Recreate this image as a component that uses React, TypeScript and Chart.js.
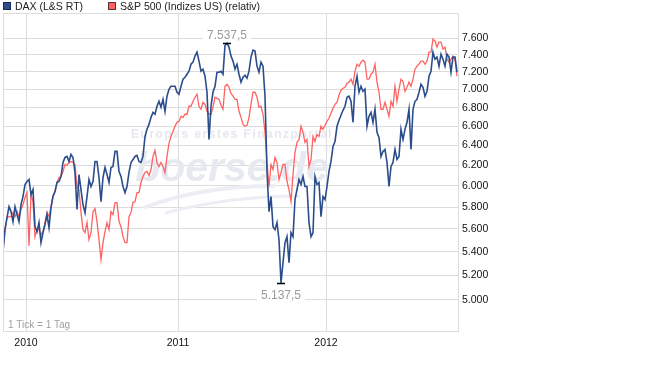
import React, { useEffect, useRef } from "react";
import { Chart, registerables } from "chart.js";

Chart.register(...registerables);

// ---- data (one value per ~trading-week step) ----
const daxValues: number[] = [
  5400, 5594, 5703, 5804, 5758, 5667, 5804, 5731, 5667, 5823,
  5898, 6013, 6042, 6061, 5917, 5965, 5621, 5576, 5658, 5479,
  5567, 5639, 5731, 5612, 5795, 5898, 5946, 6032, 6042, 6091,
  6229, 6279, 6289, 6239, 6309, 6279, 6130, 5777, 6110, 5965,
  5823, 5749, 5898, 6061, 5994, 6042, 6239, 6239, 6081, 5851,
  6081, 6179, 6110, 6032, 6179, 6189, 6340, 6340, 6140,
  6091, 5994, 5936, 5994, 6130, 6229, 6259, 6289, 6299, 6239,
  6229, 6289, 6494, 6568, 6620, 6695, 6749, 6728, 6815, 6869,
  6804, 6891, 6760, 6925, 7003, 7036, 7036, 7036, 6969, 6947,
  7036, 7116, 7139, 7173, 7208, 7289, 7313, 7384, 7431, 7325,
  7208, 7231, 7150, 6969, 6463, 6815, 6969, 7036, 7196, 7196,
  7208, 7173, 7510, 7537.5, 7491, 7384, 7325,
  7231, 7289, 7173, 7082, 7139, 7162, 7128, 7208, 7372, 7455,
  7443, 7266, 7196, 7313, 7266, 6925, 6140, 5758, 5898, 5621,
  5594, 5658, 5505, 5137.5, 5306, 5479, 5532, 5306, 5567, 5532,
  5870, 5965, 6061, 6013, 6091, 5994, 5994, 5658, 5532, 5567,
  6091, 6013, 6032, 5712, 5898, 5870, 5994, 6140, 6239, 6391,
  6442, 6600, 6664, 6717, 6771, 6815, 6914, 6925,
  6869, 6642, 7036, 7150, 6969, 7036, 6980, 7003, 6600, 6706,
  6749, 6642, 6782, 6536, 6484, 6289, 6340, 6360, 6229, 5994,
  6189, 6229, 6360, 6259, 6289, 6568, 6463, 6568, 6642, 6782,
  6360, 6782, 6869, 6891, 6969, 7059, 7025, 6925, 6980, 7150,
  7208, 7431, 7348, 7372, 7266, 7407, 7348, 7266, 7407, 7372,
  7196, 7372, 7372, 7196,
];

const spRelValues: number[] = [
  5418, 5594, 5703, 5712, 5712, 5749, 5712, 5758, 5712, 5777,
  5823, 5889, 5936, 5452, 5917, 5851, 5532, 5594, 5594, 5550,
  5576, 5658, 5749, 5712, 5804, 5907, 5946, 6032, 6081, 6091,
  6140, 6209, 6199, 6229, 6239, 6229, 6209, 5984, 5965, 5749,
  5594, 5567, 5658, 5505, 5567, 5758, 5786, 5667, 5505, 5331,
  5479, 5576, 5658, 5594, 5758, 5731, 5842, 5842, 5667,
  5621, 5532, 5479, 5479, 5712, 5749, 5842, 5851, 5936, 5936,
  6032, 6091, 6130, 6140, 6100, 6159, 6289, 6350, 6229, 6189,
  6229, 6189, 6130, 6289, 6422, 6494, 6547, 6600, 6642, 6653,
  6706, 6695, 6728, 6728, 6815, 6815, 6869, 6914, 6947, 6815,
  6782, 6858, 6836, 6760, 6728, 6728, 6804, 6914, 6902, 6891,
  6825, 6782, 7036, 7059, 7025, 6958, 6925,
  6891, 6891, 6760, 6695, 6620, 6600, 6610, 6695, 6836, 6969,
  6969, 6914, 6804, 6815, 6728, 6536, 6229, 5994, 6209, 6159,
  6279, 6229, 6061, 6130, 6209, 6209, 6042, 5965, 5851, 6110,
  6330, 6432, 6463, 6600, 6536, 6432, 6463, 6189, 6259, 6494,
  6442, 6515, 6494, 6600, 6568, 6610, 6653, 6685, 6739, 6793,
  6836, 6858, 6936, 6992, 7014, 7025, 7071, 7082,
  7116, 7059, 7208, 7289, 7266, 7313, 7336, 7313, 7116, 7116,
  7173, 7196, 7289, 7082, 6969, 6782, 6782, 6858, 6782, 6706,
  6869, 6815, 7036, 6869, 7003, 7116, 7093, 6980, 7025, 7082,
  7036, 7116, 7231, 7266, 7289, 7325, 7325, 7289, 7325, 7431,
  7431, 7588, 7563, 7491, 7551, 7551, 7467, 7491, 7348, 7313,
  7348, 7384, 7348, 7150,
];

const yTickValues: number[] = [5000, 5200, 5400, 5600, 5800, 6000, 6200, 6400, 6600, 6800, 7000, 7200, 7400, 7600];
const yearTickIndex: number[] = [11.5, 87.5, 161.5];
const yearTickLabels: string[] = ["2010", "2011", "2012"];
const seriesLabels: string[] = ["DAX (L&S RT)", "S&P 500 (Indizes US) (relativ)"];
const tickNote = "1 Tick = 1 Tag";
const watermarkSlogan = "Europas erstes Finanzportal";
const watermarkBrand = "boerse.de";

const BLUE = "#2c4d8c";
const RED = "#ff6262";
const GRID = "#dcdcdc";
const FONT = "'Liberation Sans', Arial, Helvetica, sans-serif";

function fmtDe(v: number): string {
  const a = Math.abs(v);
  const ip = Math.floor(a + 1e-9);
  const frac = Math.round((a - ip) * 10);
  const s = String(ip).replace(/\B(?=(\d{3})+(?!\d))/g, ".");
  return (v < 0 ? "-" : "") + s + (frac ? "," + frac : "");
}

const decorPlugin = {
  id: "decor",
  beforeDatasetsDraw(chart: any) {
    const { ctx, chartArea: a } = chart;
    ctx.save();
    ctx.beginPath();
    ctx.rect(a.left, a.top, a.right - a.left, a.bottom - a.top);
    ctx.clip();
    ctx.textAlign = "center";
    ctx.textBaseline = "alphabetic";
    ctx.fillStyle = "#e6e8f0";
    ctx.font = `bold 12px ${FONT}`;
    try { (ctx as any).letterSpacing = "1.5px"; } catch (e) {}
    ctx.fillText(watermarkSlogan, 232, 138);
    try { (ctx as any).letterSpacing = "0px"; } catch (e) {}
    ctx.fillStyle = "#e7e9f1";
    ctx.font = `italic bold 41px ${FONT}`;
    ctx.fillText(watermarkBrand, 232, 181);
    ctx.font = `9px ${FONT}`;
    ctx.fillText("®", 327, 152);
    ctx.strokeStyle = "#eceef4";
    ctx.lineWidth = 4;
    ctx.beginPath();
    ctx.moveTo(143, 208);
    ctx.quadraticCurveTo(200, 186, 275, 186);
    ctx.stroke();
    ctx.lineWidth = 3;
    ctx.beginPath();
    ctx.moveTo(165, 213);
    ctx.quadraticCurveTo(230, 196, 300, 196);
    ctx.stroke();
    ctx.restore();
  },
  afterDraw(chart: any) {
    const { ctx, chartArea: a, scales } = chart;
    ctx.save();
    // frame top & left
    ctx.strokeStyle = GRID;
    ctx.lineWidth = 1;
    ctx.beginPath();
    ctx.moveTo(Math.floor(a.left) + 0.5, Math.floor(a.bottom));
    ctx.lineTo(Math.floor(a.left) + 0.5, Math.floor(a.top) + 0.5);
    ctx.lineTo(Math.round(a.right), Math.floor(a.top) + 0.5);
    ctx.stroke();

    // extreme markers
    const dax = daxValues;
    let iMax = 0, iMin = 0;
    dax.forEach((v, i) => {
      if (v > dax[iMax]) iMax = i;
      if (v < dax[iMin]) iMin = i;
    });
    const drawMark = (i: number, above: boolean) => {
      const v = dax[i];
      const x = scales.x.getPixelForValue(i);
      const y = Math.round(scales.y.getPixelForValue(v)) + 0.5;
      const txt = fmtDe(v);
      ctx.font = `12px ${FONT}`;
      const w = ctx.measureText(txt).width;
      const ty = above ? y - 8 : y + 12;
      ctx.fillStyle = "#fff";
      ctx.fillRect(x - w / 2 - 4, ty - 6, w + 8, 12);
      ctx.fillStyle = "#9a9a9a";
      ctx.textAlign = "center";
      ctx.textBaseline = "middle";
      ctx.fillText(txt, x, ty);
      ctx.strokeStyle = "#000";
      ctx.lineWidth = 1.5;
      ctx.beginPath();
      ctx.moveTo(x - 4, y);
      ctx.lineTo(x + 4, y);
      ctx.stroke();
    };
    drawMark(iMax, true);
    drawMark(iMin, false);

    // note
    ctx.font = `10px ${FONT}`;
    ctx.fillStyle = "#a0a0a0";
    ctx.textAlign = "left";
    ctx.textBaseline = "alphabetic";
    ctx.fillText(tickNote, a.left + 5, a.bottom - 3);

    // legend
    const colors = [BLUE, RED];
    const borders = ["#1b2b4e", "#5a3030"];
    const xs = [3, 108];
    ctx.font = `10.5px ${FONT}`;
    ctx.textBaseline = "alphabetic";
    for (let i = 0; i < 2; i++) {
      ctx.fillStyle = colors[i];
      ctx.fillRect(xs[i], 2, 8, 8);
      ctx.strokeStyle = borders[i];
      ctx.lineWidth = 1;
      ctx.strokeRect(xs[i] + 0.5, 2.5, 7, 7);
      ctx.fillStyle = "#222";
      ctx.fillText(seriesLabels[i], xs[i] + 12, 10);
    }
    ctx.restore();
  },
};

export default function App() {
  const ref = useRef<HTMLCanvasElement | null>(null);
  useEffect(() => {
    if (!ref.current) return;
    const toPoints = (arr: number[]) => arr.map((v, i) => ({ x: i, y: v }));
    const chart = new Chart(ref.current, {
      type: "line",
      data: {
        datasets: [
          {
            label: seriesLabels[0],
            data: toPoints(daxValues),
            borderColor: BLUE,
            borderWidth: 1.6,
            pointRadius: 0,
            tension: 0,
          },
          {
            label: seriesLabels[1],
            data: toPoints(spRelValues),
            borderColor: RED,
            borderWidth: 1.3,
            pointRadius: 0,
            tension: 0,
          },
        ],
      },
      options: {
        animation: false,
        responsive: false,
        devicePixelRatio: 1,
        events: [],
        layout: { padding: { top: 13, left: 3, right: 0, bottom: 0 } },
        plugins: { legend: { display: false }, tooltip: { enabled: false } },
        scales: {
          x: {
            type: "linear",
            min: 0,
            max: 227.5,
            afterBuildTicks: (s: any) => {
              s.ticks = yearTickIndex.map((v) => ({ value: v }));
            },
            afterFit: (s: any) => {
              s.height = 34;
              s.paddingLeft = 0;
              s.paddingRight = 0;
            },
            grid: { color: GRID, drawTicks: false, lineWidth: 1 },
            border: { display: true, color: GRID },
            ticks: {
              autoSkip: false,
              maxRotation: 0,
              padding: 6,
              color: "#111",
              font: { family: FONT, size: 10.5 },
              callback: (v: any) => {
                const k = yearTickIndex.indexOf(Number(v));
                return k >= 0 ? yearTickLabels[k] : "";
              },
            },
          },
          y: {
            type: "logarithmic",
            position: "right",
            min: 4757,
            max: 7911,
            afterBuildTicks: (s: any) => {
              s.ticks = yTickValues.map((v) => ({ value: v }));
            },
            afterFit: (s: any) => {
              s.width = 202;
              s.paddingTop = 0;
              s.paddingBottom = 0;
            },
            grid: { color: GRID, drawTicks: false, lineWidth: 1 },
            border: { display: true, color: GRID },
            ticks: {
              autoSkip: false,
              padding: 4,
              color: "#111",
              font: { family: FONT, size: 10.5 },
              callback: (v: any) => fmtDe(Number(v)),
            },
          },
        },
      } as any,
      plugins: [decorPlugin as any],
    });
    return () => chart.destroy();
  }, []);
  return (
    <div style={{ position: "fixed", left: 0, top: 0, width: 660, height: 365, background: "#fff" }}>
      <canvas ref={ref} width={660} height={365} style={{ display: "block", width: 660, height: 365 }} />
    </div>
  );
}
